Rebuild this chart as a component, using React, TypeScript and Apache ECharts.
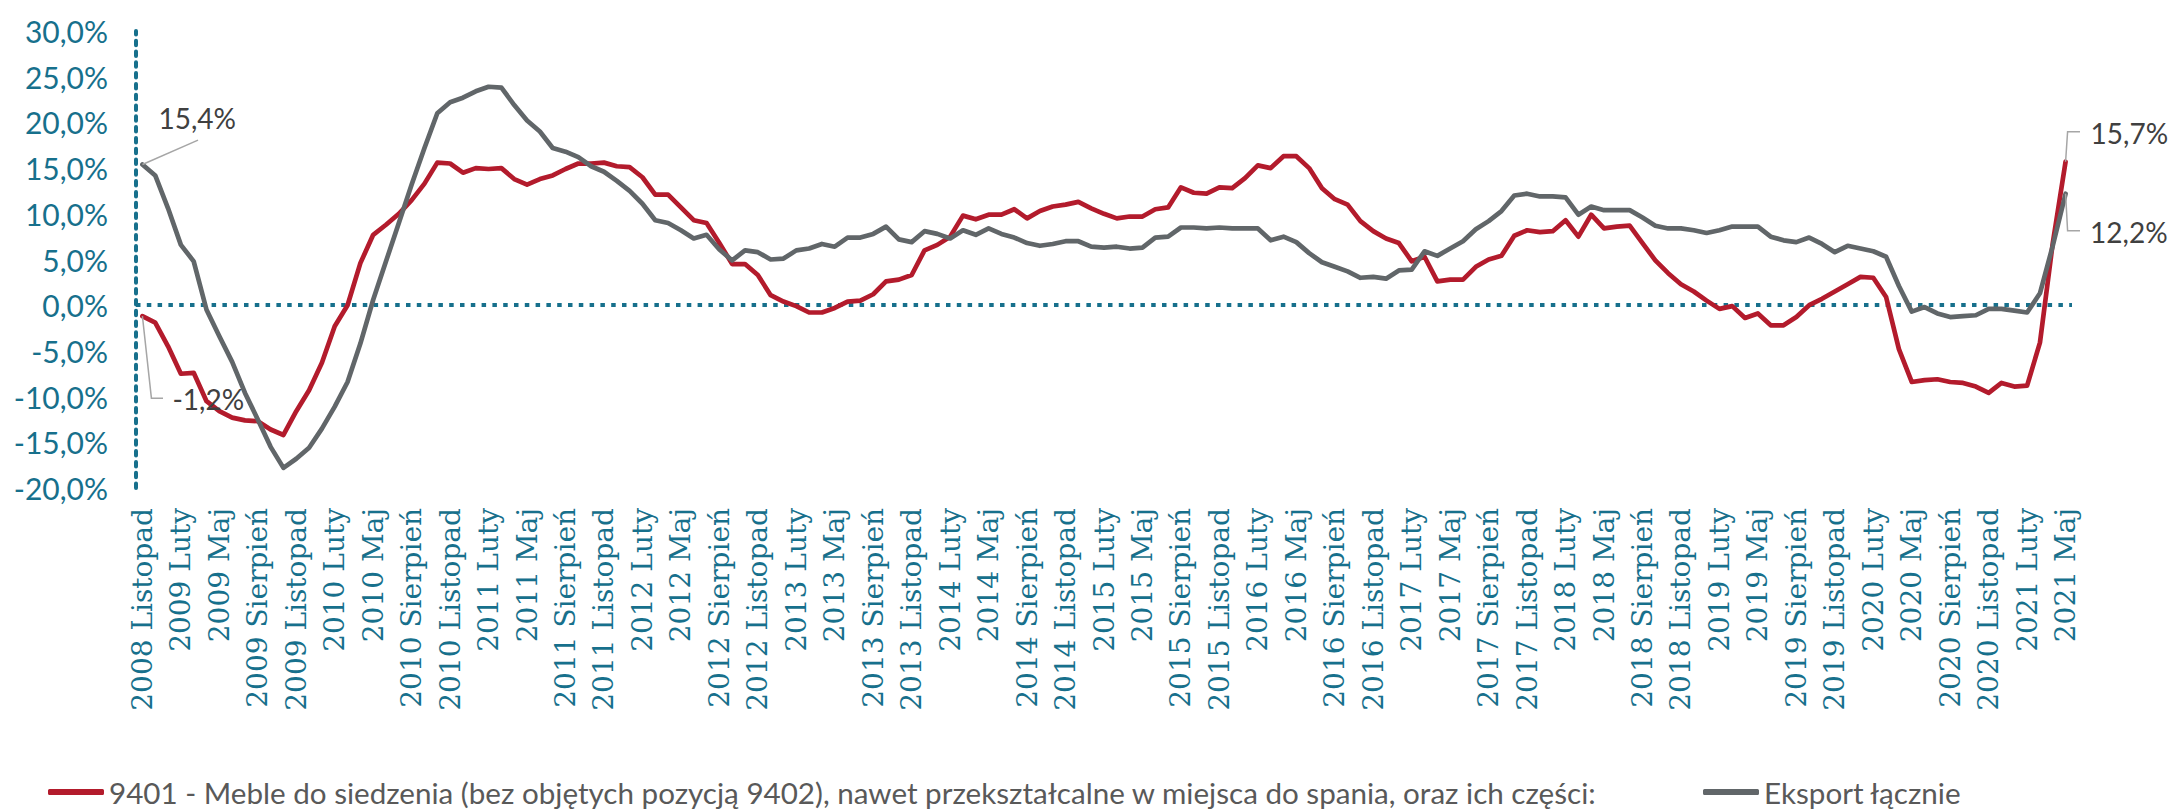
import React, { useEffect, useRef } from "react";
import * as echarts from "echarts";

// ---- categories (monthly, 2008 Listopad .. 2021 Maj) ----
const MONTH_NAMES = ["Styczeń", "Luty", "Marzec", "Kwiecień", "Maj", "Czerwiec", "Lipiec", "Sierpień", "Wrzesień", "Październik", "Listopad", "Grudzień"];
const START_YEAR = 2008;
const START_MONTH = 10; // Listopad (0-based)
const MONTH_COUNT = 151;
const categories: string[] = [];
for (let k = 0; k < MONTH_COUNT; k++) {
  const m = START_MONTH + k;
  categories.push(`${START_YEAR + Math.floor(m / 12)} ${MONTH_NAMES[m % 12]}`);
}

// ---- series values (% y/y) ----
const SERIES_9401_NAME = "9401 - Meble do siedzenia (bez objętych pozycją 9402), nawet przekształcalne w miejsca do spania, oraz ich części:";
const SERIES_EXPORT_NAME = "Eksport łącznie";

const furniture9401 = [
  -1.2, -1.9, -4.5, -7.5, -7.4, -10.5, -11.6, -12.3, -12.6, -12.7,
  -13.6, -14.2, -11.6, -9.3, -6.3, -2.3, 0.0, 4.6, 7.7, 8.8,
  10.0, 11.5, 13.3, 15.6, 15.5, 14.5, 15.0, 14.9, 15.0, 13.8,
  13.2, 13.8, 14.2, 14.9, 15.5, 15.5, 15.6, 15.2, 15.1, 14.0,
  12.1, 12.1, 10.7, 9.3, 9.0, 6.8, 4.5, 4.5, 3.3, 1.1,
  0.4, -0.1, -0.8, -0.8, -0.3, 0.4, 0.5, 1.2, 2.6, 2.8,
  3.3, 6.0, 6.6, 7.5, 9.8, 9.4, 9.9, 9.9, 10.5, 9.5,
  10.3, 10.8, 11.0, 11.3, 10.6, 10.0, 9.5, 9.7, 9.7, 10.5,
  10.7, 12.9, 12.3, 12.2, 12.9, 12.8, 13.9, 15.3, 15.0, 16.3,
  16.3, 15.0, 12.8, 11.6, 11.0, 9.2, 8.1, 7.3, 6.8, 4.8,
  5.3, 2.6, 2.8, 2.8, 4.2, 5.0, 5.4, 7.6, 8.2, 8.0,
  8.1, 9.3, 7.5, 9.9, 8.4, 8.6, 8.7, 6.8, 4.9, 3.5,
  2.3, 1.5, 0.5, -0.4, -0.1, -1.4, -0.9, -2.2, -2.2, -1.3,
  0.0, 0.7, 1.5, 2.3, 3.1, 3.0, 0.9, -4.8, -8.4, -8.2,
  -8.1, -8.4, -8.5, -8.9, -9.6, -8.5, -8.9, -8.8, -4.1, 6.8,
  15.7,
];

const exportTotal = [
  15.4, 14.2, 10.6, 6.6, 4.8, -0.5, -3.4, -6.2, -9.6, -12.5,
  -15.5, -17.8, -16.8, -15.6, -13.5, -11.1, -8.4, -4.2, 0.6, 4.8,
  9.0, 13.2, 17.2, 21.0, 22.2, 22.7, 23.4, 23.9, 23.8, 21.9,
  20.2, 19.0, 17.2, 16.8, 16.2, 15.2, 14.6, 13.6, 12.5, 11.1,
  9.3, 9.0, 8.2, 7.3, 7.7, 6.1, 4.9, 6.0, 5.8, 5.0,
  5.1, 6.0, 6.2, 6.7, 6.4, 7.4, 7.4, 7.8, 8.6, 7.2,
  6.9, 8.1, 7.8, 7.3, 8.2, 7.7, 8.4, 7.8, 7.4, 6.8,
  6.5, 6.7, 7.0, 7.0, 6.4, 6.3, 6.4, 6.2, 6.3, 7.4,
  7.5, 8.5, 8.5, 8.4, 8.5, 8.4, 8.4, 8.4, 7.1, 7.5,
  6.9, 5.7, 4.7, 4.2, 3.7, 3.0, 3.1, 2.9, 3.8, 3.9,
  5.9, 5.4, 6.2, 7.0, 8.3, 9.2, 10.3, 12.0, 12.2, 11.9,
  11.9, 11.8, 9.9, 10.8, 10.4, 10.4, 10.4, 9.6, 8.7, 8.4,
  8.4, 8.2, 7.9, 8.2, 8.6, 8.6, 8.6, 7.5, 7.1, 6.9,
  7.4, 6.7, 5.8, 6.5, 6.2, 5.9, 5.3, 2.1, -0.7, -0.2,
  -0.9, -1.3, -1.2, -1.1, -0.4, -0.4, -0.6, -0.8, 1.3, 6.5,
  12.2,
];

// ---- axis ----
const Y_MIN = -20;
const Y_MAX = 30;
const Y_STEP = 5;

const TEAL = "#17708c";
const RED = "#b31b2c";
const GRAY = "#616669";
const LABEL_GRAY = "#404040";
const LEADER = "#a6a6a6";

const fmtPct = (v: number) => v.toFixed(1).replace(".", ",") + "%";

export default function App() {
  const ref = useRef<HTMLDivElement>(null);

  useEffect(() => {
    document.body.style.margin = "0";
    if (!ref.current) return;
    const chart = echarts.init(ref.current, null, { renderer: "svg" });
    const legendText = { fontFamily: "Lato", fontSize: 29.6, color: "#595959", lineHeight: 28 };
    const option: any = {
      animation: false,
      backgroundColor: "#ffffff",
      grid: { left: 136, right: 102, top: 31, bottom: 321, containLabel: false },
      legend: [
        {
          left: 48,
          top: 777,
          padding: 0,
          data: [SERIES_9401_NAME],
          icon: "roundRect",
          itemWidth: 56,
          itemHeight: 6,
          selectedMode: false,
          textStyle: legendText,
        },
        {
          left: 1703,
          top: 777,
          padding: 0,
          data: [SERIES_EXPORT_NAME],
          icon: "roundRect",
          itemWidth: 56,
          itemHeight: 6,
          selectedMode: false,
          textStyle: legendText,
        },
      ],
      xAxis: {
        type: "category",
        data: categories,
        boundaryGap: true,
        axisLine: { show: false, onZero: false },
        axisTick: { show: false },
        splitLine: { show: false },
        axisLabel: {
          interval: 2,
          rotate: 90,
          margin: 20,
          fontFamily: "DejaVu Serif",
          fontSize: 28,
          color: TEAL,
        },
      },
      yAxis: {
        type: "value",
        min: Y_MIN,
        max: Y_MAX,
        interval: Y_STEP,
        axisLine: { show: true, lineStyle: { color: TEAL, width: 4, type: [4.5, 6.3] } },
        axisTick: { show: false },
        splitLine: { show: false },
        axisLabel: {
          formatter: (v: number) => fmtPct(v),
          fontFamily: "Lato",
          fontSize: 30,
          color: TEAL,
          margin: 28,
          padding: [0, 0, 8, 0],
        },
      },
      series: [
        {
          name: SERIES_9401_NAME,
          type: "line",
          data: furniture9401,
          showSymbol: false,
          symbol: "none",
          color: RED,
          lineStyle: { color: RED, width: 4.7, cap: "round", join: "round" },
          z: 3,
        },
        {
          name: SERIES_EXPORT_NAME,
          type: "line",
          data: exportTotal,
          showSymbol: false,
          symbol: "none",
          color: GRAY,
          lineStyle: { color: GRAY, width: 4.7, cap: "round", join: "round" },
          z: 4,
          markLine: {
            silent: true,
            symbol: "none",
            label: { show: false },
            lineStyle: { color: TEAL, width: 4, type: [4.5, 6.3] },
            data: [{ yAxis: 0 }],
            z: 2,
          },
        },
      ],
    };
    chart.setOption(option);

    const px = (i: number, v: number) => chart.convertToPixel({ gridIndex: 0 }, [i, v]) as number[];
    const last = MONTH_COUNT - 1;
    const pG0 = px(0, exportTotal[0]);
    const pR0 = px(0, furniture9401[0]);
    const pRL = px(last, furniture9401[last]);
    const pGL = px(last, exportTotal[last]);

    const textStyle = (x: number, y: number, s: string) => ({
      type: "text",
      x,
      y,
      style: { text: s, fill: LABEL_GRAY, font: "28px Lato", textAlign: "left", textVerticalAlign: "middle" },
      z: 10,
    });
    const line = (pts: number[][]) => ({
      type: "polyline",
      shape: { points: pts },
      style: { stroke: LEADER, lineWidth: 1.5, fill: "none" },
      z: 9,
    });

    chart.setOption({
      graphic: [
        line([[pG0[0], pG0[1]], [pG0[0] + 55.6, pG0[1] - 24.3]]),
        textStyle(pG0[0] + 16, pG0[1] - 46.8, fmtPct(exportTotal[0])),
        line([[pR0[0], pR0[1]], [pR0[0] + 9, pR0[1] + 82], [pR0[0] + 20.6, pR0[1] + 82]]),
        textStyle(pR0[0] + 30, pR0[1] + 82.7, fmtPct(furniture9401[0])),
        line([[pRL[0], pRL[1]], [pRL[0] + 2, pRL[1] - 30], [pRL[0] + 14.4, pRL[1] - 30]]),
        textStyle(pRL[0] + 25, pRL[1] - 28.5, fmtPct(furniture9401[last])),
        line([[pGL[0], pGL[1]], [pGL[0] + 2, pGL[1] + 37], [pGL[0] + 14.4, pGL[1] + 37]]),
        textStyle(pGL[0] + 24.5, pGL[1] + 38.3, fmtPct(exportTotal[last])),
      ],
    });

    return () => chart.dispose();
  }, []);

  return (
    <div
      ref={ref}
      style={{ position: "absolute", left: 0, top: 0, width: 2174, height: 809, background: "#fff" }}
    />
  );
}
